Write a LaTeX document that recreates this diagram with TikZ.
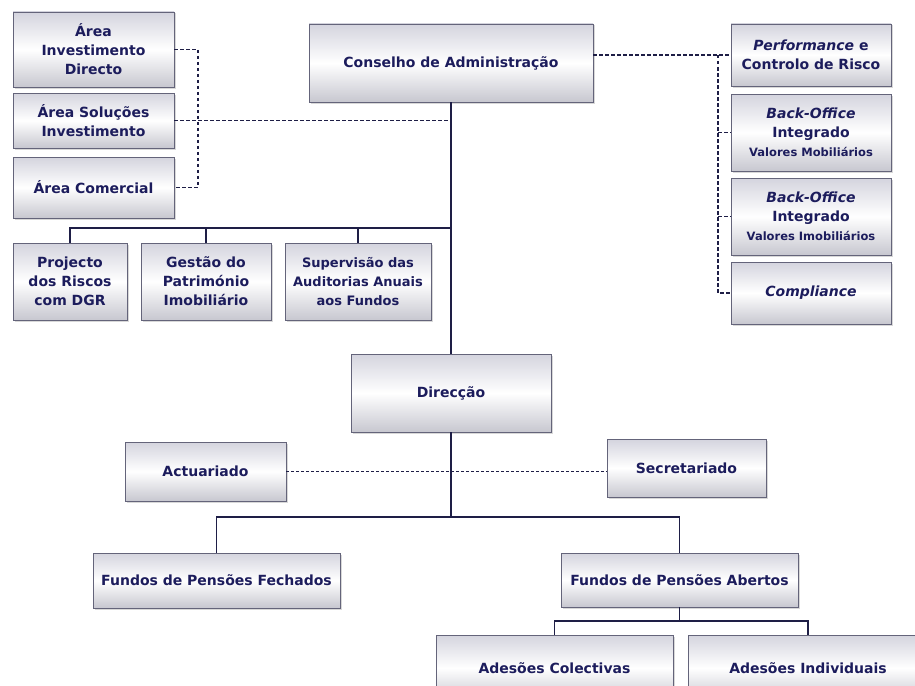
\documentclass[tikz,border=0pt]{standalone}
\usepackage{fontspec}
\setmainfont{DejaVu Sans}
\usetikzlibrary{shadows}
\definecolor{navy}{RGB}{28,28,92}
\definecolor{linec}{RGB}{30,30,70}
\definecolor{boxborder}{RGB}{100,100,122}
\definecolor{boxedge}{RGB}{212,212,222}
\newcommand{\smalltxt}{\fontsize{11.5}{15}\selectfont}
\tikzset{
  box/.style={draw=boxborder, line width=0.9pt, top color=boxedge, bottom color=boxedge!85!gray,
    middle color=white, inner sep=0pt, align=center, text=navy,
    font=\bfseries\fontsize{14}{19}\selectfont,
    drop shadow={shadow xshift=1.5pt, shadow yshift=-1.5pt, opacity=0.3, fill=gray}},
  sz/.style 2 args={minimum width=#1pt, minimum height=#2pt},
  tree/.style={draw=linec, line width=1.6pt},
  rel/.style={draw=linec, line width=1.6pt, dash pattern=on 3.5pt off 2.5pt},
  relthin/.style={draw=linec, line width=1pt, dash pattern=on 3pt off 2pt},
}
\begin{document}
\begin{tikzpicture}[x=1pt, y=-1pt]
\useasboundingbox (0,0) rectangle (915,685);
\fill[white] (0,0) rectangle (915,685);
\clip (0,0) rectangle (915,685);

% top-left areas
\node[box, sz={161}{75}] (aid) at (93.5,49.5) {Área\\Investimento\\Directo};
\node[box, sz={161}{55}] (asi) at (93.5,120.5) {Área Soluções\\Investimento};
\node[box, sz={161}{61}] (ac) at (93.5,187.5) {Área Comercial};

% council
\node[box, sz={284}{78}] (cons) at (451,63) {Conselho de Administração};

% right column
\node[box, sz={160}{62}] (perf) at (811,55) {{\itshape Performance} e\\Controlo de Risco};
\node[box, sz={160}{77}] (bo1) at (811,132.5) {{\itshape Back-Office}\\Integrado\\{\smalltxt Valores Mobiliários}};
\node[box, sz={160}{77}] (bo2) at (811,216.5) {{\itshape Back-Office}\\Integrado\\{\smalltxt Valores Imobiliários}};
\node[box, sz={160}{62}] (comp) at (811,293) {{\itshape Compliance}};

% second row
\node[box, sz={114}{77}] (proj) at (70,281.5) {Projecto\\dos Riscos\\com DGR};
\node[box, sz={130}{77}] (gest) at (206,281.5) {Gestão do\\Património\\Imobiliário};
\node[box, sz={146}{77}, font=\bfseries\fontsize{13}{19}\selectfont] (sup) at (358,281.5) {Supervisão das\\Auditorias Anuais\\aos Fundos};

% direction
\node[box, sz={200}{78}] (dir) at (451,393) {Direcção};
\node[box, sz={161}{59}] (act) at (205.5,471.5) {Actuariado};
\node[box, sz={159}{58}] (sec) at (686.5,468) {Secretariado};

% funds
\node[box, sz={247}{55}] (ff) at (216.5,580.5) {Fundos de Pensões Fechados};
\node[box, sz={237}{54}] (fa) at (679.5,580) {Fundos de Pensões Abertos};
\node[box, sz={237}{66}] (adc) at (554.5,668) {Adesões Colectivas};
\node[box, sz={240}{66}] (adi) at (808,668) {Adesões Individuais};

% helper coordinates
\coordinate (lx) at (198,49.5);
\coordinate (rx) at (718,55);
\coordinate (hb) at (451,228);
\coordinate (hb2) at (451,517);
\coordinate (hb3) at (679.5,621);

% dashed relations, left
\draw[rel] (aid.east) -- (lx) |- (ac.east);
\draw[rel] (asi.east) -- (asi.east -| cons.south);
% dashed relations, right
\draw[rel] (cons.east |- perf.west) -- (perf.west);
\draw[rel] (rx) |- (comp.west);
\draw[rel] (rx |- bo1.west) -- (bo1.west);
\draw[rel] (rx |- bo2.west) -- (bo2.west);
% actuariado - secretariado
\draw[relthin] (act.east) -- (sec.west |- act.east);

% tree lines
\draw[tree] (cons.south) -- (dir.north);
\draw[tree] (proj.north) |- (hb);
\draw[tree] (gest.north) -- (gest.north |- hb);
\draw[tree] (sup.north) -- (sup.north |- hb);
\draw[tree] (dir.south) -- (hb2);
\draw[tree] (ff.north) |- (fa.north |- hb2) -- (fa.north);
\draw[tree] (fa.south) -- (hb3);
\draw[tree] (adc.north) |- (adi.north |- hb3) -- (adi.north);
\end{tikzpicture}
\end{document}
